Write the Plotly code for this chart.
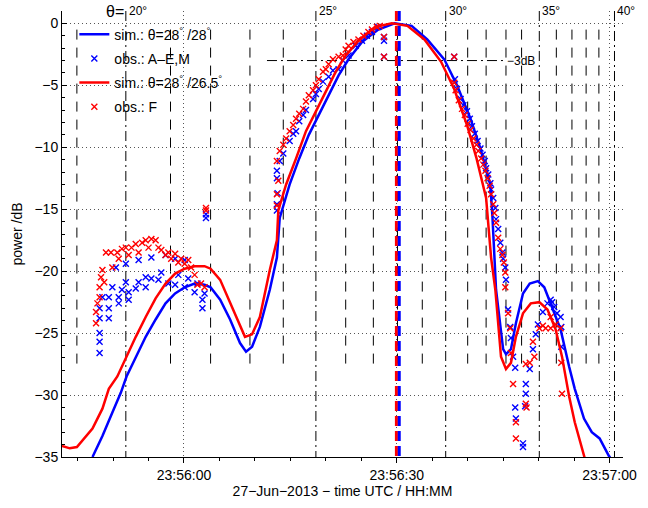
import plotly.graph_objects as go

# time axis: seconds after 23:56:00 UTC (27-Jun-2013)
sim_blue_t = [-12.9, -11.5, -10.1, -8.9, -8.1, -6.8, -5.4, -4.0, -2.6, -1.25, 0.1, 1.5, 2.9, 3.75, 5.1, 6.5, 7.9, 8.75, 9.6, 10.7, 12.1, 13.1, 13.5, 14.9, 16.25, 17.6, 19.0, 20.4, 21.8, 23.2, 25.1, 27.4, 29.7, 32.1, 34.3, 36.7, 38.5, 40.4, 41.8, 43.2, 43.5, 44.0, 44.6, 45.0, 45.4, 46.1, 46.8, 47.8, 48.75, 49.9, 50.8, 51.9, 53.1, 54.3, 55.1, 56.4, 57.5, 58.6, 59.9, 60.6]
sim_blue_p = [-35.0, -33.3, -31.4, -29.8, -28.5, -26.9, -25.3, -23.9, -22.6, -21.8, -21.3, -21.0, -21.1, -21.3, -22.3, -23.9, -25.8, -26.5, -26.1, -24.5, -21.5, -18.9, -15.7, -13.0, -10.9, -9.0, -7.4, -5.8, -4.2, -2.9, -1.5, -0.5, 0.0, -0.2, -1.3, -2.9, -5.0, -7.7, -10.1, -13.0, -15.7, -21.5, -24.2, -26.3, -26.7, -26.3, -24.2, -21.8, -21.0, -20.8, -21.3, -22.9, -24.7, -27.7, -29.5, -31.9, -33.0, -33.5, -34.9, -35.5]

sim_red_t = [-17.2, -16.1, -15.1, -13.75, -12.9, -11.5, -10.6, -9.4, -8.2, -6.8, -5.4, -4.0, -2.6, -1.25, 0.1, 1.5, 2.9, 3.75, 5.1, 6.5, 7.9, 8.6, 9.6, 10.7, 12.1, 13.1, 13.3, 14.4, 15.8, 17.2, 18.6, 20.0, 21.4, 22.8, 24.6, 26.9, 29.3, 31.5, 33.9, 36.25, 38.1, 39.9, 41.25, 42.6, 43.3, 43.9, 44.3, 44.7, 45.4, 46.1, 46.8, 47.8, 48.9, 50.1, 51.25, 52.4, 53.3, 54.3, 55.1, 56.4, 56.7]
sim_red_p = [-34.1, -34.3, -34.2, -33.3, -32.7, -31.1, -29.5, -28.5, -27.0, -25.3, -23.7, -22.2, -21.0, -20.2, -19.8, -19.6, -19.6, -19.8, -20.7, -22.6, -24.5, -25.3, -25.1, -23.7, -19.9, -17.5, -15.1, -13.0, -10.9, -8.7, -7.1, -5.5, -3.9, -2.6, -1.4, -0.3, 0.0, -0.2, -1.3, -3.1, -5.3, -8.2, -10.9, -14.1, -18.9, -21.5, -24.2, -26.9, -27.9, -27.4, -25.3, -23.4, -22.6, -22.5, -23.1, -24.7, -26.9, -30.1, -32.2, -34.9, -35.5]

obs_blue_t = [-11.9, -11.9, -11.9, -11.9, -11.9, -11.5, -10.6, -10.6, -10.6, -10.1, -9.2, -9.2, -8.75, -8.2, -7.8, -7.8, -6.8, -6.4, -5.4, -5.4, -4.6, -3.6, -3.2, -2.2, -1.25, -0.8, 0.1, 0.6, 1.5, 1.9, 2.6, 2.6, 2.9, -8.2, -6.4, -4.6, -2.6, -1.25, 0.1, -9.6, 3.1, 3.1,
              13.1, 13.1, 13.1, 13.1, 13.2, 13.5, 14.0, 14.9, 15.4, 15.8, 16.25, 16.8, 17.2, 18.2, 18.6, 19.0, 19.6, 20.4, 21.0, 21.8, 22.4, 23.2, 24.2, 25.1, 25.8, 26.5, 27.4, 28.2, 28.2, 28.2, 38.1,
              38.2, 38.5, 39.0, 39.4, 39.9, 40.3, 40.6, 41.0, 41.4, 41.8, 42.1, 42.4, 42.6, 42.9, 43.2, 43.3, 43.6, 43.9, 44.0, 44.3, 44.6, 44.9, 45.0, 45.3, 45.4, 45.7, 46.0, 46.1, 46.4, 46.7, 46.7, 46.8, 47.8, 47.8, 48.1, 48.2, 48.2, 48.75, 49.2, 49.6, 49.9, 50.6, 51.25, 51.7, 51.9, 52.2, 52.6, 53.1, 53.2, 53.2]
obs_blue_p = [-26.6, -25.7, -25.0, -23.8, -23.0, -22.1, -23.8, -23.0, -22.1, -21.3, -22.6, -22.1, -21.5, -20.9, -22.3, -21.7, -21.4, -20.9, -21.3, -20.5, -20.6, -20.7, -20.1, -21.0, -21.1, -20.3, -21.3, -20.6, -21.7, -21.0, -22.3, -23.0, -21.8, -19.4, -19.1, -18.9, -18.7, -19.0, -19.1, -19.7, -15.7, -15.4,
              -11.9, -12.5, -14.6, -15.1, -13.7, -11.1, -10.5, -9.5, -8.9, -8.7, -7.9, -7.4, -7.0, -6.1, -5.7, -5.3, -4.7, -4.3, -3.8, -3.7, -3.0, -2.6, -1.8, -1.4, -1.0, -0.7, -0.3, -1.1, -1.4, -2.7, -2.7,
              -4.5, -5.3, -6.1, -6.6, -7.1, -7.7, -8.3, -8.9, -9.5, -10.1, -10.6, -11.1, -11.7, -12.2, -12.9, -13.4, -14.1, -14.9, -15.8, -16.6, -17.7, -18.5, -19.0, -19.7, -20.7, -23.1, -24.5, -25.4, -26.9, -27.8, -31.0, -31.9, -33.9, -34.2, -30.9, -29.9, -29.1, -27.9, -26.3, -25.1, -24.3, -23.3, -22.6, -22.3, -22.5, -22.9, -23.4, -23.7, -24.5, -26.1]

obs_red_t = [-12.4, -12.4, -12.2, -11.9, -11.9, -11.7, -11.5, -11.25, -11.0, -10.3, -10.1, -9.4, -9.2, -8.75, -8.2, -7.8, -7.4, -6.8, -6.4, -5.9, -5.4, -5.0, -4.6, -4.0, -3.6, -3.2, -2.6, -2.2, -1.8, -1.25, -0.8, -0.4, 0.1, 0.6, 1.0, 1.5, 1.9, 2.4, 2.9, 3.1, 3.1,
             13.1, 13.3, 13.1, 13.1, 13.5, 14.0, 14.4, 14.9, 15.4, 15.8, 16.25, 16.8, 17.2, 17.6, 18.2, 18.6, 19.0, 19.6, 20.0, 20.4, 21.0, 21.8, 22.4, 22.8, 23.2, 23.9, 24.6, 25.3, 26.0, 26.5, 27.2, 27.6, 28.2, 28.2, 38.1,
             38.1, 38.3, 38.75, 39.2, 39.6, 40.0, 40.4, 40.8, 41.25, 41.5, 41.9, 42.2, 42.5, 42.8, 43.1, 43.3, 43.6, 43.75, 44.0, 44.3, 44.6, 44.9, 45.1, 45.3, 45.3, 45.7, 46.0, 46.1, 46.4, 46.8, 46.8, 48.2, 48.3, 48.2, 48.75, 49.2, 49.4, 50.1, 50.6, 51.0, 51.7, 51.7, 52.4, 53.1, 53.2, 53.3]
obs_red_p = [-24.2, -23.3, -22.6, -22.1, -21.3, -20.5, -19.9, -20.9, -18.5, -18.5, -19.7, -18.5, -19.0, -18.2, -18.1, -18.7, -18.1, -17.8, -18.5, -17.7, -17.5, -18.1, -17.4, -17.5, -18.1, -18.3, -18.7, -18.5, -19.0, -18.6, -19.3, -19.0, -19.4, -19.1, -19.7, -20.3, -21.1, -21.0, -21.3, -14.9, -15.1,
             -11.1, -12.7, -13.8, -14.7, -10.3, -9.8, -9.3, -8.7, -8.2, -7.7, -7.3, -6.9, -6.3, -5.8, -5.4, -5.0, -4.5, -3.9, -3.7, -3.3, -2.9, -2.7, -2.6, -2.1, -1.8, -1.5, -1.3, -1.0, -0.7, -0.5, -0.3, -0.2, -1.1, -2.7, -2.7,
             -4.8, -5.4, -6.2, -6.9, -7.4, -8.1, -8.6, -9.3, -9.8, -10.3, -10.9, -11.4, -11.9, -12.5, -13.1, -13.8, -14.6, -15.3, -16.1, -17.3, -18.2, -18.7, -19.3, -20.1, -21.3, -23.4, -24.6, -26.6, -29.1, -32.2, -33.5, -30.7, -31.0, -27.5, -27.4, -25.7, -26.9, -24.6, -24.4, -24.6, -23.7, -24.6, -24.3, -24.6, -27.4, -29.9]

# elevation angle theta (deg) and the time (s after 23:56:00) it is reached
theta_deg = [19, 20, 21, 22, 23, 24, 25, 26, 27, 28, 29, 30, 31, 32, 33, 34, 35, 36, 37, 38, 39, 40]
theta_t = [-15.1, -8.2, -1.9, 3.75, 9.3, 14.0, 18.6, 22.8, 26.7, 30.1, 33.6, 36.9, 40.0, 42.6, 45.4, 47.6, 50.1, 52.5, 54.7, 56.7, 58.5, 60.7]

peak_t_red = 29.95
peak_t_blue = 30.35
minus3_t = [11.7, 45.0]

x_tickvals = [0, 30, 60]
x_ticktext = ["23:56:00", "23:56:30", "23:57:00"]
y_tickvals = [0, -5, -10, -15, -20, -25, -30, -35]

FONT = "Liberation Sans, Arial, Helvetica, sans-serif"
BLUE = "rgb(0,0,255)"
RED = "rgb(255,0,0)"

fig = go.Figure()
fig.add_trace(go.Scatter(x=sim_blue_t, y=sim_blue_p, mode="lines", legendgroup="g1",
                         line=dict(color=BLUE, width=2.5),
                         name="sim.: θ=28<sup>°</sup> /28<sup>°</sup>"))
fig.add_trace(go.Scatter(x=obs_blue_t, y=obs_blue_p, mode="markers", legendgroup="g2",
                         marker=dict(symbol="x-thin", size=6, color=BLUE, line=dict(color=BLUE, width=1.4)),
                         name="obs.: A–E,M"))
fig.add_trace(go.Scatter(x=sim_red_t, y=sim_red_p, mode="lines", legendgroup="g3",
                         line=dict(color=RED, width=2.5),
                         name="sim.: θ=28<sup>°</sup> /26.5<sup>°</sup>"))
fig.add_trace(go.Scatter(x=obs_red_t, y=obs_red_p, mode="markers", legendgroup="g4",
                         marker=dict(symbol="x-thin", size=6, color=RED, line=dict(color=RED, width=1.4)),
                         name="obs.: F"))

shapes = []
for d, t in zip(theta_deg, theta_t):
    if d % 5 == 0:
        shapes.append(dict(type="line", xref="x", yref="y", x0=t, x1=t, y0=1, y1=-35,
                           line=dict(color="black", width=1, dash="10px,4px,2px,4px"), layer="below"))
    else:
        shapes.append(dict(type="line", xref="x", yref="y", x0=t, x1=t, y0=-0.5, y1=-27.7,
                           line=dict(color="black", width=1, dash="10px,8px"), layer="below"))
shapes.append(dict(type="line", xref="x", yref="y", x0=minus3_t[0], x1=minus3_t[1], y0=-3, y1=-3,
                   line=dict(color="black", width=1, dash="10px,4px,2px,4px"), layer="below"))
shapes.append(dict(type="line", xref="x", yref="y", x0=peak_t_red, x1=peak_t_red, y0=1, y1=-35,
                   line=dict(color=RED, width=3, dash="10px,5px"), layer="above"))
shapes.append(dict(type="line", xref="x", yref="y", x0=peak_t_blue, x1=peak_t_blue, y0=1, y1=-35,
                   line=dict(color=BLUE, width=3, dash="10px,5px"), layer="above"))
fig.update_layout(shapes=shapes)

ann = [dict(x=theta_t[1], y=1.0, xref="x", yref="y", text="θ=", showarrow=False,
            xanchor="right", yanchor="middle", font=dict(size=16, family=FONT, color="black"))]
for d, t in zip(theta_deg, theta_t):
    if d % 5 == 0:
        ann.append(dict(x=t, y=1.0, xref="x", yref="y", text=f"{d}°", showarrow=False,
                        xanchor="left", yanchor="middle", xshift=1,
                        font=dict(size=12, family=FONT, color="black")))
ann.append(dict(x=minus3_t[1], y=-3, xref="x", yref="y", text="−3dB", showarrow=False,
                xanchor="left", yanchor="middle", xshift=2, font=dict(size=12, family=FONT, color="black")))
fig.update_layout(annotations=ann)

fig.update_layout(
    width=648, height=508,
    margin=dict(l=62, r=16, t=11, b=46),
    paper_bgcolor="white", plot_bgcolor="white",
    font=dict(family=FONT, size=14, color="black"),
    showlegend=True,
    legend=dict(x=0.022, y=0.983, xanchor="left", yanchor="top", bgcolor="rgba(0,0,0,0)",
                font=dict(size=14, family=FONT), tracegroupgap=3, itemwidth=30),
    xaxis=dict(range=[-17.2, 61.9], tickvals=x_tickvals, ticktext=x_ticktext,
               showline=True, linecolor="black", linewidth=1, ticks="outside", ticklen=5,
               tickcolor="black", showgrid=True, gridcolor="#555", griddash="1px,3px", gridwidth=1,
               zeroline=False, mirror=False,
               minor=dict(dtick=5, tick0=0, ticks="outside", ticklen=3, tickcolor="black", showgrid=False),
               title=dict(text="27−Jun−2013 − time UTC / HH:MM", font=dict(size=14), standoff=4)),
    yaxis=dict(range=[-35, 1], tickvals=y_tickvals,
               showline=True, linecolor="black", linewidth=1, ticks="inside", ticklen=5,
               tickcolor="black", showgrid=True, gridcolor="#555", griddash="1px,3px", gridwidth=1,
               zeroline=False, mirror=False,
               minor=dict(dtick=1, tick0=0, ticks="inside", ticklen=3, tickcolor="black", showgrid=False),
               title=dict(text="power /dB", font=dict(size=14), standoff=8)),
)

fig.write_html("out.html")
